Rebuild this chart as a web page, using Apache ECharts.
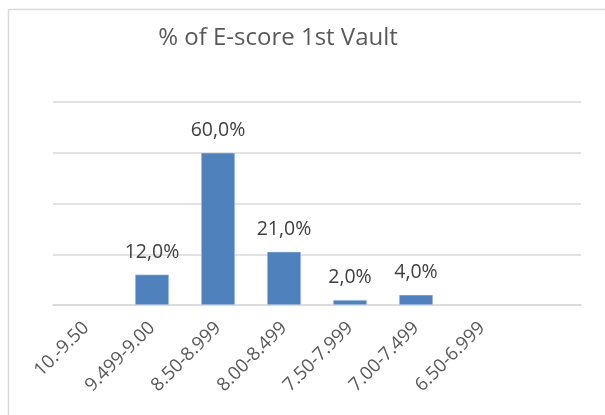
<!DOCTYPE html>
<html>
<head>
<meta charset="utf-8">
<script src="https://cdn.jsdelivr.net/npm/echarts@6/dist/echarts.min.js"></script>
<style>html,body{margin:0;padding:0;background:#fff;}#c{width:605px;height:415px;}</style>
</head>
<body>
<div id="c"></div>
<script>
const categories = ['10.-9.50', '9.499-9.00', '8.50-8.999', '8.00-8.499', '7.50-7.999', '7.00-7.499', '6.50-6.999', ''];
const values = [null, 12, 60, 21, 2, 4, null, null];
const yMax = 80;
const yInterval = 20;

const chart = echarts.init(document.getElementById('c'), null, {renderer: 'canvas'});
chart.setOption({
  animation: false,
  backgroundColor: '#fff',
  title: {
    text: '% of E-score 1st Vault',
    left: 273, top: 21, textAlign: 'center',
    textStyle: {fontFamily: 'Open Sans', fontSize: 24, fontWeight: 'normal', color: '#595959'}
  },
  graphic: [
    {type: 'line', shape: {x1: 8.5, y1: 9.5, x2: 605, y2: 9.5}, style: {stroke: '#d9d9d9', lineWidth: 1.5}},
    {type: 'line', shape: {x1: 8.5, y1: 9.5, x2: 8.5, y2: 415}, style: {stroke: '#d9d9d9', lineWidth: 1.5}}
  ],
  grid: {left: 53, right: 24, top: 102, bottom: 110},
  xAxis: {
    type: 'category', data: categories,
    axisLine: {lineStyle: {color: '#d9d9d9', width: 1.5}},
    axisTick: {show: false},
    axisLabel: {rotate: 45, interval: 0, margin: 20, fontFamily: 'Open Sans', fontSize: 18.5, color: '#595959'}
  },
  yAxis: {
    type: 'value', min: 0, max: yMax, interval: yInterval,
    axisLabel: {show: false}, axisLine: {show: false}, axisTick: {show: false},
    splitLine: {lineStyle: {color: '#d9d9d9', width: 1.5}}
  },
  series: [{
    type: 'bar', data: values, barWidth: 34,
    itemStyle: {color: '#4f81bd', borderColor: '#dbe5f1', borderWidth: 0.5},
    label: {
      show: true, position: 'top', distance: 12,
      fontFamily: 'Open Sans', fontSize: 19.5, color: '#404040',
      formatter: p => p.value == null ? '' : p.value.toFixed(1).replace('.', ',') + '%'
    }
  }]
});
</script>
</body>
</html>
